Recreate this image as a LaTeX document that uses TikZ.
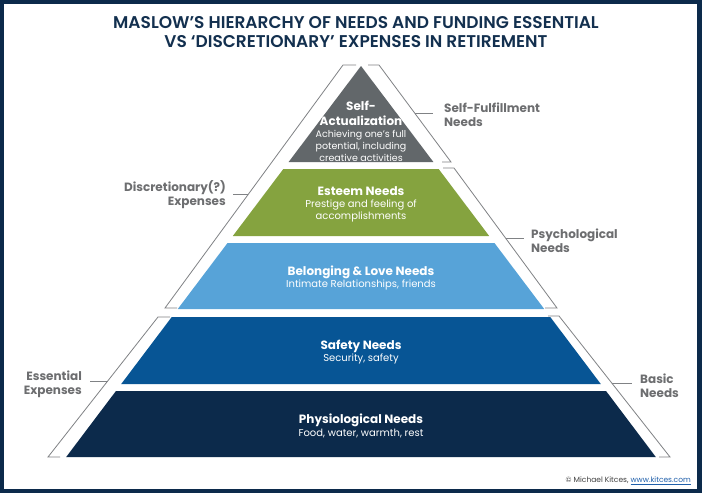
\documentclass[tikz,border=0pt]{standalone}
\usepackage{fontspec}
\setmainfont{Poppins}
\newfontfamily\titlefont{Poppins SemiBold}
\definecolor{framenavy}{HTML}{0C2A4B}
\definecolor{titlenavy}{HTML}{13304F}
\definecolor{actgray}{HTML}{62676A}
\definecolor{esteemgreen}{HTML}{85A33F}
\definecolor{lovelblue}{HTML}{57A3D8}
\definecolor{safetyblue}{HTML}{075595}
\definecolor{physnavy}{HTML}{0C2A4B}
\definecolor{labelgray}{HTML}{6D6E70}
\definecolor{bracketgray}{HTML}{808285}
\definecolor{linkblue}{HTML}{1F5FAA}
\begin{document}
\begin{tikzpicture}[x=1pt, y=-1pt,
    layertitle/.style={text=white, font=\bfseries\fontsize{12}{15}\selectfont, align=center, inner sep=0pt},
    layerdesc/.style={text=white, font=\fontsize{10}{12.5}\selectfont, align=center, inner sep=0pt},
    sidelabel/.style={text=labelgray, font=\bfseries\fontsize{12}{14}\selectfont, inner sep=0pt},
    bracketline/.style={draw=bracketgray, line width=0.8pt}]
	  \useasboundingbox (0,0) rectangle (702,493);
	  \fill[framenavy] (0,0) rectangle (702,493);
	  \fill[white] (4,4) rectangle (697,489);
	  \node[text=titlenavy, font=\titlefont\fontsize{17}{19.5}\selectfont, align=center] (title) at (356,32) {MASLOW’S HIERARCHY OF NEEDS AND FUNDING ESSENTIAL\\VS ‘DISCRETIONARY’ EXPENSES IN RETIREMENT};
	  % pyramid layers
	  \fill[actgray] (361,66) -- ({361+0.754*96},162) -- ({361-0.754*96},162) -- cycle;
	  \foreach \ytop/\ybot/\col in {169/236/esteemgreen, 243/309/lovelblue, 317/384/safetyblue, 391/457/physnavy}
	    \fill[\col] ({361-0.754*(\ytop-66)},\ytop) -- ({361+0.754*(\ytop-66)},\ytop) -- ({361+0.754*(\ybot-66)},\ybot) -- ({361-0.754*(\ybot-66)},\ybot) -- cycle;
	  \node[layertitle] (selfact) at (361,113) {Self-\\Actualization};
	  \node[layerdesc, font=\fontsize{9.5}{12}\selectfont] (selfactd) at (361,145.5) {Achieving one’s full\\potential, including\\creative activities};
	  \node[layertitle] (esteem) at (361,191) {Esteem Needs};
	  \node[layerdesc] (esteemd) at (361,211) {Prestige and feeling of\\accomplishments};
	  \node[layertitle] (belong) at (361,272) {Belonging \& Love Needs};
	  \node[layerdesc] (belongd) at (361,284.5) {Intimate Relationships, friends};
	  \node[layertitle] (safety) at (361,346) {Safety Needs};
	  \node[layerdesc] (safetyd) at (361,358.5) {Security, safety};
	  \node[layertitle] (physio) at (361,420) {Physiological Needs};
	  \node[layerdesc] (physiod) at (361,433.5) {Food, water, warmth, rest};
	  % brackets
	  \draw[bracketline] (368,65) -- (379,65) -- coordinate[pos=0.495] (sfjoin) (451,162) -- (442,162);
	  \draw[bracketline] (443,168) -- (454,168) -- coordinate[pos=0.5] (psjoin) (557,308) -- (545,308);
	  \draw[bracketline] (548,316) -- (559,316) -- coordinate[pos=0.475] (bnjoin) (670,457) -- (659,457);
	  \draw[bracketline] (356,65) -- (343,65) -- coordinate[pos=0.531] (dsjoin) (165,308) -- (177,308);
	  \draw[bracketline] (170,317) -- (158,317) -- coordinate[pos=0.457] (esjoin) (48,457) -- (60,457);
	  \node[sidelabel, anchor=west, align=left] (selfful) at (444,115) {Self-Fulfillment\\Needs};
	  \node[sidelabel, anchor=west, align=left] (psych) at (531,241) {Psychological\\Needs};
	  \node[sidelabel, anchor=west, align=left] (basic) at (640,386) {Basic\\Needs};
	  \node[sidelabel, anchor=east, align=right] (discr) at (226,195) {Discretionary(?)\\Expenses};
	  \node[sidelabel, anchor=east, align=right] (essent) at (82,384) {Essential\\Expenses};
	  \draw[bracketline, shorten >=11pt] (sfjoin) -- (sfjoin -| selfful.west);
	  \draw[bracketline, shorten >=7pt] (psjoin) -- (psjoin -| psych.west);
	  \draw[bracketline, shorten >=8pt] (bnjoin) -- (bnjoin -| basic.west);
	  \draw[bracketline, shorten >=7pt] (dsjoin) -- (dsjoin -| discr.east);
	  \draw[bracketline, shorten >=8pt] (esjoin) -- (esjoin -| essent.east);
	  \node[anchor=east, inner sep=0pt, text=black!75, font=\fontsize{7.5}{9}\selectfont] (credit) at (691,481) {© Michael Kitces, \textcolor{linkblue}{\underline{www.kitces.com}}};
	\end{tikzpicture}
\end{document}
